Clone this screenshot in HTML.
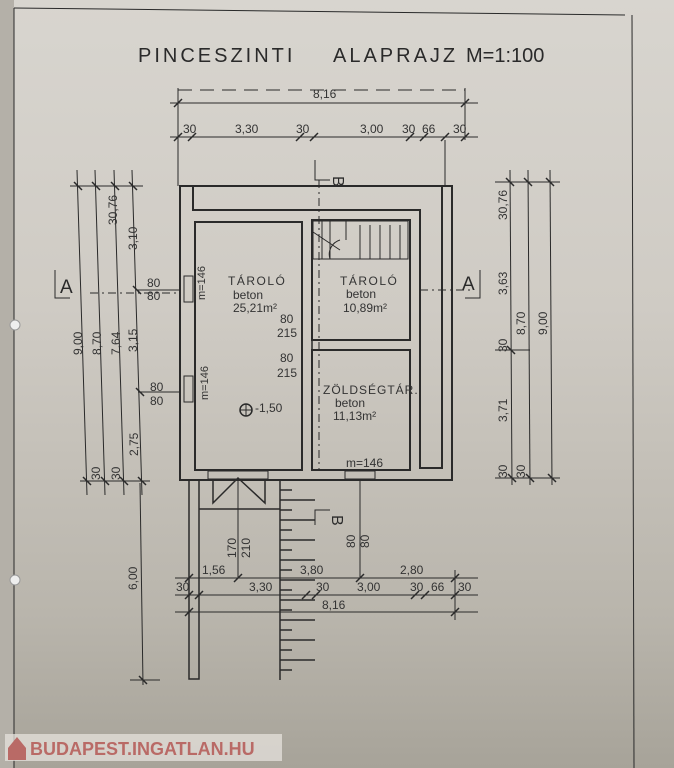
<!DOCTYPE html>
<html><head><meta charset="utf-8"><style>
html,body{margin:0;padding:0;}
body{width:674px;height:768px;overflow:hidden;background:linear-gradient(180deg,#d8d5cf 0%,#cfcbc4 40%,#b9b5ac 80%,#a7a399 100%);font-family:"Liberation Sans",sans-serif;}
svg{position:absolute;left:0;top:0}
</style></head><body>
<svg width="674" height="768" viewBox="0 0 674 768" font-family="Liberation Sans, sans-serif" fill="none" stroke="#2a2a2a">
<rect x="0" y="0" width="14" height="768" fill="#b4b0a8" stroke="none"/>
<line x1="14" y1="8" x2="14" y2="768" stroke-width="1"/>
<line x1="14" y1="8" x2="625" y2="15" stroke-width="1"/>
<line x1="632" y1="15" x2="634" y2="768" stroke-width="1"/>
<circle cx="15" cy="325" r="5" fill="#eee" stroke="#999"/>
<circle cx="15" cy="580" r="5" fill="#eee" stroke="#999"/>
<g fill="#2a2a2a" stroke="none" font-size="20" letter-spacing="3">
<text x="138" y="62">PINCESZINTI</text><text x="333" y="62">ALAPRAJZ</text><text x="466" y="62" letter-spacing="0">M=1:100</text>
</g>
<!-- top dims -->
<g stroke-width="1">
<line x1="178" y1="88" x2="178" y2="186"/><line x1="465" y1="88" x2="465" y2="140"/>
<line x1="178" y1="90" x2="465" y2="90" stroke-dasharray="14,8"/>
<line x1="170" y1="103" x2="478" y2="103"/>
<line x1="170" y1="137" x2="478" y2="137"/>
<line x1="445" y1="140" x2="445" y2="186"/>
</g>
<g stroke-width="1.5">
<path d="M174 107 L182 99 M461 107 L469 99 M174 141 L182 133 M188 141 L196 133 M296 141 L304 133 M310 141 L318 133 M406 141 L414 133 M420 141 L428 133 M441 141 L449 133 M461 141 L469 133"/>
</g>
<g fill="#333" stroke="none" font-size="12">
<text x="313" y="98">8,16</text>
<text x="183" y="133">30</text><text x="235" y="133">3,30</text><text x="296" y="133">30</text><text x="360" y="133">3,00</text><text x="402" y="133">30</text><text x="422" y="133">66</text><text x="453" y="133">30</text>
</g>
<!-- building -->
<g stroke-width="2">
<path d="M180 186 H452 V480 H180 Z"/>
<path d="M193 186 V210 H420 V468 H442 V186"/>
<rect x="195" y="222" width="107" height="248"/>
<rect x="312" y="220" width="98" height="120"/>
<rect x="312" y="350" width="98" height="120"/>
</g>
<path d="M302 222 V312 M312 312 V340 M302 340 V350 M312 340 V350" stroke-width="1.5"/>
<!-- stairs -->
<g stroke-width="1"><rect x="313" y="221" width="95" height="38"/>
<path d="M322 221 V259 M330 221 V259 M346 221 V240 M360 225 V259 M370 225 V259 M380 225 V259 M390 225 V259 M400 225 V259 M313 232 L340 250 M340 240 A15 15 0 0 0 330 259"/></g>
<!-- windows -->
<g stroke-width="1"><rect x="184" y="276" width="9" height="26"/><rect x="184" y="376" width="9" height="26"/><rect x="345" y="471" width="30" height="8"/><rect x="208" y="471" width="60" height="8"/></g>
<!-- B section -->
<g stroke-width="1"><path d="M315 160 V180 H330 M315 525 V510 H330"/>
<line x1="319" y1="180" x2="319" y2="470" stroke-dasharray="8,4,2,4"/>
<line x1="420" y1="290" x2="470" y2="290" stroke-dasharray="8,4,2,4"/>
<line x1="90" y1="293" x2="180" y2="293" stroke-dasharray="8,4,2,4"/>
<path d="M55 270 V298 H70 M480 270 V298 H465"/></g>
<g fill="#2a2a2a" stroke="none" font-size="19"><text x="60" y="293">A</text><text x="462" y="290">A</text>
<text x="333" y="176" transform="rotate(90 333 176)" font-size="16">B</text><text x="332" y="515" transform="rotate(90 332 515)" font-size="16">B</text></g>
<!-- room labels -->
<g fill="#333" stroke="none" font-size="12">
<text x="228" y="285" letter-spacing="1.5">TÁROLÓ</text><text x="233" y="299">beton</text><text x="233" y="312">25,21m²</text>
<text x="340" y="285" letter-spacing="1.5">TÁROLÓ</text><text x="346" y="298">beton</text><text x="343" y="312">10,89m²</text>
<text x="323" y="394" letter-spacing="1">ZÖLDSÉGTÁR.</text><text x="335" y="407">beton</text><text x="333" y="420">11,13m²</text>
<text x="255" y="412">-1,50</text>
<text x="280" y="323">80</text><text x="277" y="337">215</text><text x="280" y="362">80</text><text x="277" y="377">215</text>
<text x="147" y="287">80</text><text x="147" y="300">80</text><text x="150" y="391">80</text><text x="150" y="405">80</text>
<text x="346" y="467">m=146</text>
<text x="205" y="300" transform="rotate(-90 205 300)" font-size="11">m=146</text>
<text x="208" y="400" transform="rotate(-90 208 400)" font-size="11">m=146</text>
</g>
<circle cx="246" cy="410" r="6" stroke-width="1.5"/><path d="M240 410 H252 M246 404 V416" stroke-width="1"/>
<!-- left dims -->
<g stroke-width="1">
<line x1="77" y1="170" x2="87" y2="495"/><line x1="95" y1="170" x2="105" y2="495"/><line x1="114" y1="170" x2="124" y2="495"/><line x1="132" y1="170" x2="142" y2="495"/>
<line x1="70" y1="186" x2="143" y2="186"/><line x1="80" y1="481" x2="150" y2="481"/>
<line x1="137" y1="290" x2="180" y2="290"/><line x1="138" y1="392" x2="180" y2="392"/>
<line x1="140" y1="483" x2="143" y2="685"/><line x1="130" y1="680" x2="160" y2="680"/>
</g>
<g stroke-width="1.5">
<path d="M74 182 L82 190 M92 182 L100 190 M111 182 L119 190 M129 182 L137 190 M83 477 L91 485 M101 477 L109 485 M120 477 L128 485 M138 477 L146 485 M133 286 L141 294 M136 388 L144 396 M139 676 L147 684"/>
</g>
<g fill="#333" stroke="none" font-size="12">
<text transform="translate(82 355) rotate(-90)">9,00</text><text transform="translate(101 355) rotate(-90)">8,70</text><text transform="translate(120 355) rotate(-90)">7,64</text><text transform="translate(137 352) rotate(-90)">3,15</text>
<text transform="translate(137 250) rotate(-90)">3,10</text><text transform="translate(117 225) rotate(-90)">30,76</text>
<text transform="translate(138 456) rotate(-90)">2,75</text><text transform="translate(100 480) rotate(-90)">30</text><text transform="translate(120 480) rotate(-90)">30</text>
<text transform="translate(137 590) rotate(-90)">6,00</text>
</g>
<!-- right dims -->
<g stroke-width="1">
<line x1="510" y1="170" x2="512" y2="485"/><line x1="528" y1="170" x2="530" y2="485"/><line x1="550" y1="170" x2="552" y2="485"/>
<line x1="495" y1="182" x2="560" y2="182"/><line x1="495" y1="478" x2="560" y2="478"/><line x1="495" y1="350" x2="530" y2="350"/>
</g>
<g stroke-width="1.5">
<path d="M506 178 L514 186 M524 178 L532 186 M546 178 L554 186 M508 474 L516 482 M526 474 L534 482 M548 474 L556 482 M507 346 L515 354"/>
</g>
<g fill="#333" stroke="none" font-size="12">
<text transform="translate(507 220) rotate(-90)">30,76</text><text transform="translate(507 295) rotate(-90)">3,63</text><text transform="translate(525 335) rotate(-90)">8,70</text><text transform="translate(547 335) rotate(-90)">9,00</text>
<text transform="translate(507 352) rotate(-90)">30</text><text transform="translate(507 422) rotate(-90)">3,71</text><text transform="translate(507 478) rotate(-90)">30</text><text transform="translate(525 478) rotate(-90)">30</text>
</g>
<!-- below -->
<g stroke-width="1.5">
<path d="M189 480 V679 H199 V480"/><path d="M199 509 H280"/>
<path d="M213 480 V503 L238 478 L265 503 V480"/>
<line x1="280" y1="480" x2="280" y2="680"/>
</g>
<g stroke-width="1.5">
<path d="M280 490 H292 M280 500 H315 M280 510 H292 M280 520 H315 M280 530 H292 M280 540 H315 M280 550 H292 M280 560 H315 M280 570 H292 M280 580 H315 M280 590 H292 M280 600 H315 M280 610 H292 M280 620 H315 M280 630 H292 M280 640 H315 M280 650 H292 M280 660 H315 M280 670 H292"/>
</g>
<g stroke-width="1">
<line x1="175" y1="578" x2="478" y2="578"/><line x1="175" y1="595" x2="478" y2="595"/><line x1="175" y1="612" x2="478" y2="612"/>
<line x1="238" y1="480" x2="238" y2="578"/><line x1="360" y1="480" x2="360" y2="578"/><line x1="455" y1="570" x2="455" y2="620"/>
</g>
<g stroke-width="1.5">
<path d="M185 582 L193 574 M234 582 L242 574 M356 582 L364 574 M451 582 L459 574 M185 599 L193 591 M195 599 L203 591 M302 599 L310 591 M312 599 L320 591 M411 599 L419 591 M421 599 L429 591 M451 599 L459 591 M185 616 L193 608 M451 616 L459 608"/>
</g>
<g fill="#333" stroke="none" font-size="12">
<text x="202" y="574">1,56</text><text x="300" y="574">3,80</text><text x="400" y="574">2,80</text>
<text x="176" y="591">30</text><text x="249" y="591">3,30</text><text x="316" y="591">30</text><text x="357" y="591">3,00</text><text x="410" y="591">30</text><text x="431" y="591">66</text><text x="458" y="591">30</text>
<text x="322" y="609">8,16</text>
<text transform="translate(236 558) rotate(-90)">170</text><text transform="translate(250 558) rotate(-90)">210</text>
<text transform="translate(355 548) rotate(-90)">80</text><text transform="translate(369 548) rotate(-90)">80</text>
</g>
<!-- logo -->
<rect x="5" y="734" width="277" height="27" fill="rgba(230,226,220,0.75)" stroke="none"/>
<path d="M8 748 L17 737 L26 748 V760 H8 Z" fill="#b96a66" stroke="none"/>
<text x="30" y="755" fill="#b96a66" stroke="none" font-size="18" font-weight="bold">BUDAPEST.INGATLAN.HU</text>
</svg>
</body></html>
